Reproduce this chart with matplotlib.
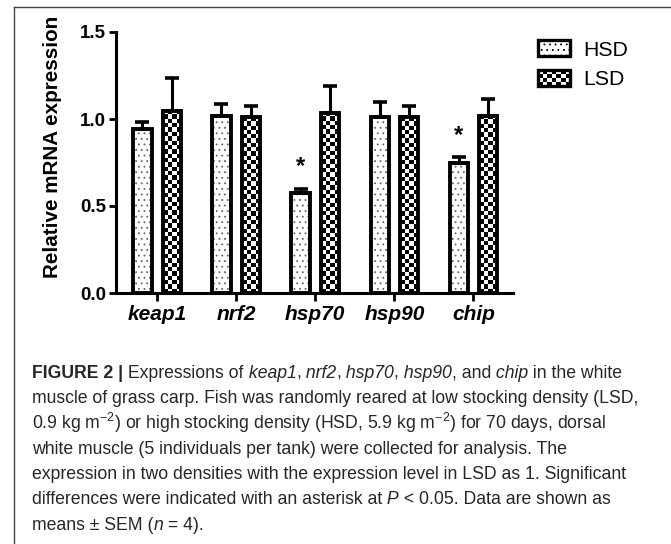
import numpy as np
import matplotlib
matplotlib.use("Agg")
import matplotlib.pyplot as plt
from matplotlib import font_manager
from matplotlib.patches import Rectangle
from matplotlib.lines import Line2D
from matplotlib.legend_handler import HandlerBase

# data
genes = ["keap1", "nrf2", "hsp70", "hsp90", "chip"]
hsd_mean = [0.94, 1.015, 0.575, 1.01, 0.75]
hsd_sem = [0.045, 0.07, 0.025, 0.09, 0.03]
lsd_mean = [1.047, 1.01, 1.035, 1.01, 1.018]
lsd_sem = [0.19, 0.062, 0.153, 0.065, 0.096]
hsd_sig = ["", "", "*", "", "*"]
y_ticks = [0.0, 0.5, 1.0, 1.5]

# caption lines as (text, style) runs: n normal, b bold, i italic
caption = [
    [("FIGURE 2 |", "b"), (" Expressions of", "n"), (" keap1", "i"), (",", "n"), (" nrf2", "i"),
     (",", "n"), (" hsp70", "i"), (",", "n"), (" hsp90", "i"), (", and", "n"), (" chip", "i"),
     (" in the white", "n")],
    [("muscle of grass carp. Fish was randomly reared at low stocking density (LSD,", "n")],
    [(r"0.9 kg m$^{-2}$) or high stocking density (HSD, 5.9 kg m$^{-2}$) for 70 days, dorsal", "n")],
    [("white muscle (5 individuals per tank) were collected for analysis. The", "n")],
    [("expression in two densities with the expression level in LSD as 1. Significant", "n")],
    [("differences were indicated with an asterisk at", "n"), (" P", "i"),
     (" < 0.05. Data are shown as", "n")],
    [("means \u00b1 SEM (", "n"), ("n", "i"), (" = 4).", "n")],
]

names = {f.name for f in font_manager.fontManager.ttflist}
cap_font = "Liberation Sans Narrow" if "Liberation Sans Narrow" in names else "Liberation Sans"

plt.rcParams["font.family"] = ["Liberation Sans", "DejaVu Sans"]
plt.rcParams["mathtext.fontset"] = "custom"
plt.rcParams["mathtext.rm"] = cap_font
plt.rcParams["mathtext.it"] = cap_font + ":italic"
plt.rcParams["mathtext.bf"] = cap_font + ":bold"
plt.rcParams["hatch.linewidth"] = 0.6


class HandlerChecker(HandlerBase):
    # checkerboard legend patch
    def create_artists(self, legend, orig_handle, xdescent, ydescent,
                       width, height, fontsize, trans):
        arts = []
        nx, ny = 7, 4
        sw, sh = width / nx, height / ny
        for i in range(nx):
            for j in range(ny):
                if (i + j) % 2 == 0:
                    arts.append(Rectangle((-xdescent + i * sw, -ydescent + j * sh), sw, sh,
                                          facecolor="black", edgecolor="none", transform=trans))
        arts.append(Rectangle((-xdescent, -ydescent), width, height, facecolor="none",
                              edgecolor="black", lw=2.4, transform=trans))
        return arts


fig = plt.figure(figsize=(6.71, 5.44), dpi=100)
ax = fig.add_axes([116 / 671, 1 - 293 / 544, 397 / 671, 261 / 544])

x = np.arange(len(genes))
w = 0.23
off = 0.186
ax.set_xlim(-0.52, 4.5)
ax.set_ylim(0, 1.5)

# HSD: dotted bars
ax.bar(x - off, hsd_mean, w, facecolor="white", edgecolor="#666666", linewidth=0,
       hatch="...", zorder=2)
ax.bar(x - off, hsd_mean, w, fill=False, edgecolor="black", linewidth=2.8, zorder=3)

# LSD: checkerboard bars (image clipped to bar)
lsd_bars = ax.bar(x + off, lsd_mean, w, fill=False, edgecolor="black", linewidth=2.8, zorder=3)
sq = 4.3
for b in lsd_bars:
    x0, y0 = b.get_x(), b.get_y()
    bw, bh = b.get_width(), b.get_height()
    p0 = ax.transData.transform((x0, y0))
    p1 = ax.transData.transform((x0 + bw, y0 + bh))
    nx = max(1, int(round((p1[0] - p0[0]) / sq)))
    ny = max(1, int(round((p1[1] - p0[1]) / sq)))
    checker = np.add.outer(np.arange(ny), np.arange(nx)) % 2
    im = ax.imshow(checker, cmap="gray", extent=(x0, x0 + bw, y0, y0 + bh), origin="lower",
                   interpolation="nearest", aspect="auto", zorder=2)
    im.set_clip_path(b)

ax.errorbar(x - off, hsd_mean, yerr=[np.zeros(len(x)), hsd_sem], fmt="none", ecolor="black",
            elinewidth=2.2, capsize=4.8, capthick=2.6, zorder=4)
ax.errorbar(x + off, lsd_mean, yerr=[np.zeros(len(x)), lsd_sem], fmt="none", ecolor="black",
            elinewidth=2.2, capsize=4.8, capthick=2.6, zorder=4)

for i, s in enumerate(hsd_sig):
    if s:
        ax.text(x[i] - off, hsd_mean[i] + hsd_sem[i] + 0.125, s, ha="center", va="center",
                fontsize=17, fontweight="bold")

ax.set_xlim(-0.52, 4.5)
ax.set_ylim(0, 1.5)
ax.set_xticks(x)
ax.set_xticklabels(genes, fontsize=15, fontweight="bold", fontstyle="italic")
ax.set_yticks(y_ticks)
ax.set_yticklabels(["%.1f" % v for v in y_ticks], fontsize=13.5, fontweight="bold")
ax.tick_params(axis="both", width=2, length=5, color="black")
ax.tick_params(axis="x", length=6, pad=3)
ax.tick_params(axis="y", pad=2)
for sp in ["top", "right"]:
    ax.spines[sp].set_visible(False)
for sp in ["left", "bottom"]:
    ax.spines[sp].set_linewidth(2.2)

ax.set_ylabel("Relative mRNA expression", fontsize=14.9, fontweight="bold", va="center")
ax.yaxis.set_label_coords(-0.16, 0.56)

h_hsd = Rectangle((0, 0), 1, 1, facecolor="white", edgecolor="black", lw=2.4, hatch="...")
h_lsd = Rectangle((0, 0), 1, 1)
fig.legend([h_hsd, h_lsd], ["HSD", "LSD"], handler_map={h_lsd: HandlerChecker()},
           loc="upper left", bbox_to_anchor=(538 / 671, 1 - 40 / 544), frameon=False,
           fontsize=15.3, handlelength=1.52, handleheight=0.8, handletextpad=0.62,
           labelspacing=0.48, borderpad=0, borderaxespad=0)

# frame around the figure panel
fig.add_artist(Line2D([14 / 671, 14 / 671], [0, 1 - 7 / 544], color="#444444", lw=1))
fig.add_artist(Line2D([14 / 671, 1], [1 - 7 / 544, 1 - 7 / 544], color="#444444", lw=1))

# caption, drawn run by run
renderer = fig.canvas.get_renderer()
for k, parts in enumerate(caption):
    xpix = 32
    ypos = 1 - (378 + k * 25.3) / 544
    for s, style in parts:
        t = fig.text(xpix / 671, ypos, s, fontsize=12.7, family=cap_font, color="#262626",
                     fontweight="bold" if style == "b" else "normal",
                     fontstyle="italic" if style == "i" else "normal",
                     ha="left", va="baseline")
        xpix = t.get_window_extent(renderer).x1

fig.savefig("out.png", dpi=100)
